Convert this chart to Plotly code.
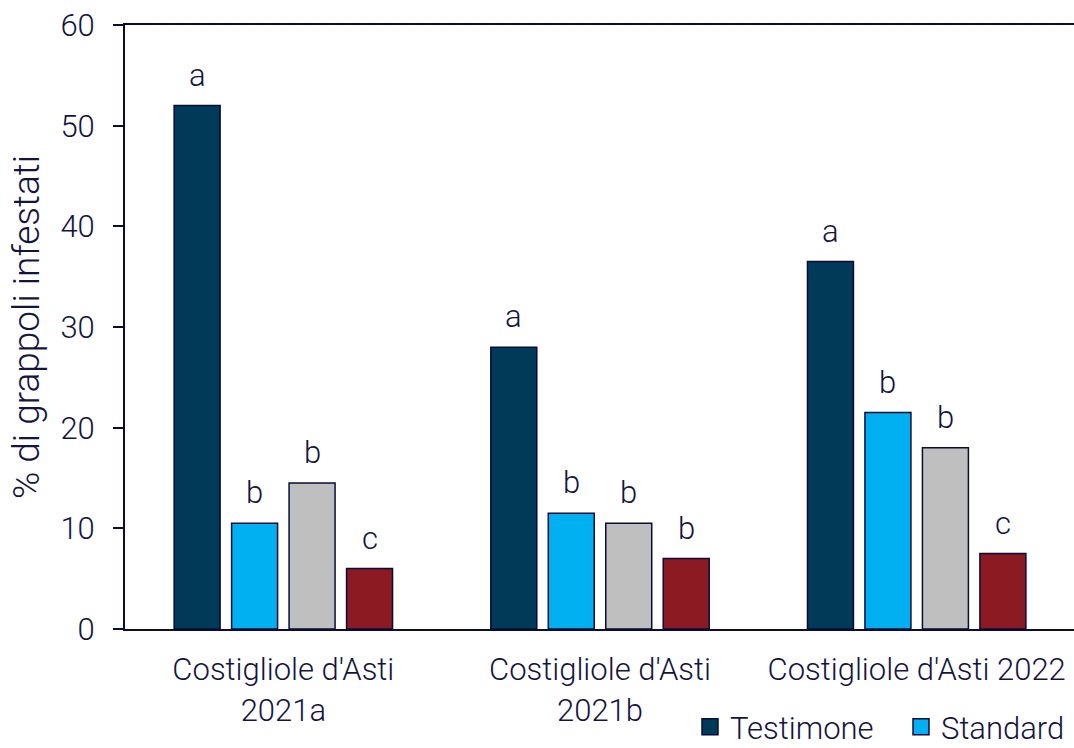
import plotly.graph_objects as go

# Sites / years
categories = ["Costigliole d'Asti<br>2021a", "Costigliole d'Asti<br>2021b", "Costigliole d'Asti 2022"]

# % of infested bunches per treatment
testimone = [52, 28, 36.5]
standard = [10.5, 11.5, 21.5]
tesi_3 = [14.5, 10.5, 18]
tesi_4 = [6, 7, 7.5]

# Statistical significance letters
letters_testimone = ["a", "a", "a"]
letters_standard = ["b", "b", "b"]
letters_tesi_3 = ["b", "b", "b"]
letters_tesi_4 = ["c", "b", "c"]

series = [
    ("Testimone", testimone, letters_testimone, "#003A59", True),
    ("Standard", standard, letters_standard, "#00B0F0", True),
    ("Tesi 3", tesi_3, letters_tesi_3, "#BFBFBF", False),
    ("Tesi 4", tesi_4, letters_tesi_4, "#8B1A22", False),
]

TEXT = "#14143F"
EDGE = "#0B0B3A"
FONT = "Roboto"
FS = 31
BARGAP = 0.274
GROUPGAP = 0.2

fig = go.Figure()
for name, vals, _, color, show in series:
    fig.add_trace(go.Bar(
        x=categories, y=vals, name=name, showlegend=False, legendgroup=name,
        marker=dict(color=color, line=dict(color=EDGE, width=1.5)),
    ))
    if show:
        # larger square swatch for the legend entry
        fig.add_trace(go.Scatter(
            x=[None], y=[None], mode="markers", name=name, legendgroup=name,
            marker=dict(symbol="square", size=16, color=color,
                        line=dict(color=EDGE, width=1.5)),
        ))

# Letters above each bar, placed at the grouped-bar offsets
n = len(series)
slot = (1 - BARGAP) / n
for j, (_, vals, labs, _, _) in enumerate(series):
    for i, (v, lab) in enumerate(zip(vals, labs)):
        fig.add_annotation(
            x=i + (j - (n - 1) / 2) * slot, y=v, text=lab,
            showarrow=False, yanchor="bottom", yshift=10,
            font=dict(family=FONT, size=FS, color=TEXT, weight=300),
        )

fig.update_layout(
    width=1074, height=748,
    margin=dict(l=125, r=0, t=25, b=119, autoexpand=False),
    paper_bgcolor="white", plot_bgcolor="white",
    barmode="group", bargap=BARGAP, bargroupgap=GROUPGAP,
    font=dict(family=FONT, size=FS, color=TEXT, weight=300),
    legend=dict(orientation="h", x=(690 - 125) / (1074 - 125), xref="paper", xanchor="left",
                y=0.064, yref="container", yanchor="top",
                font=dict(size=FS), traceorder="normal", itemwidth=30,
                entrywidth=166, entrywidthmode="pixels"),
    xaxis=dict(range=[-0.5, 2.4968], showline=True, linecolor=EDGE, linewidth=2,
               mirror=True, ticks="", showgrid=False, ticklabelstandoff=12),
    yaxis=dict(range=[0, 60], dtick=10, showline=True, linecolor=EDGE, linewidth=2,
               ticks="outside", ticklen=10, tickwidth=2, tickcolor=EDGE,
               showgrid=False, zeroline=False, ticklabelstandoff=12,
               title=dict(text="% di grappoli infestati", standoff=9)),
)

fig.write_html("out.html")
